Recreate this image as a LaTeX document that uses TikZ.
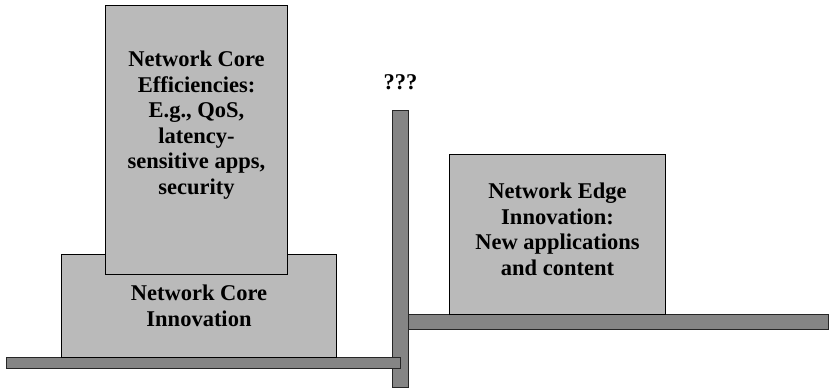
\documentclass[tikz,border=0pt]{standalone}
\usepackage{fontspec}
\setmainfont{Liberation Serif}
\usetikzlibrary{positioning}

\begin{document}
\begin{tikzpicture}
      [ x=1pt, y=-1pt,
        block/.style={draw=black, line width=1pt, fill=black!27,
                      inner sep=0pt, anchor=north west},
        bar/.style={draw=black!85, line width=0.8pt, fill=black!48,
                    inner sep=0pt, anchor=north west},
        txt/.style={font=\bfseries\fontsize{22.5}{25.5}\selectfont,
                    align=center, inner sep=0pt}
      ]
      \useasboundingbox (0,0) rectangle (829,390);

      % walls and ground
      \node[bar, minimum width=16,  minimum height=277] (wall)    at (392,110) {};
      \node[bar, minimum width=394, minimum height=11]  (groundL) at (6,357)   {};
      \node[bar, minimum width=420, minimum height=15]  (groundR) at (408,314) {};
      \node[txt] (unknown) [above=20pt of wall] {???};

      % core side
      \node[block, minimum width=275, minimum height=103] (coreInn) at (61,254) {};
      \node[block, minimum width=182, minimum height=269] (coreEff) at (105,5)  {};
      \node[txt] (coreInnText) at ([yshift=0pt]coreInn.center)
            {Network Core\\Innovation};
      \node[txt] (coreEffText) at ([yshift=15pt]coreEff.center)
            {Network Core\\Efficiencies:\\E.g., QoS,\\latency-\\sensitive apps,\\security};

      % edge side
      \node[block, minimum width=216, minimum height=160] (edgeInn) at (449,154) {};
      \node[txt] (edgeInnText) at ([yshift=5pt]edgeInn.center)
            {Network Edge\\Innovation:\\New applications\\and content};
    \end{tikzpicture}
\end{document}
